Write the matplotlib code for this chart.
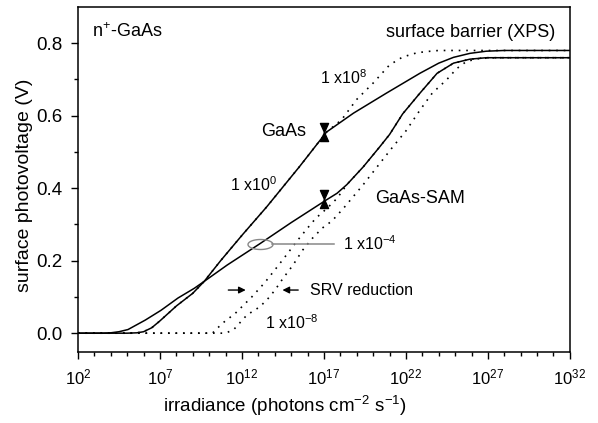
import numpy as np
import matplotlib
matplotlib.use("Agg")
import matplotlib.pyplot as plt
from matplotlib.path import Path

plt.rcParams['font.family'] = ['Liberation Sans', 'DejaVu Sans']
plt.rcParams['mathtext.fontset'] = 'custom'
plt.rcParams['mathtext.rm'] = 'Liberation Sans'
plt.rcParams['mathtext.it'] = 'Liberation Sans'

# log10(irradiance) and photovoltage (V)
gaas_lx = [2, 5.0, 5.6, 6.0, 6.5, 7.0, 8.0, 9.0, 9.7, 10.7, 12.0, 13.5, 15.5, 17.16,
           18.8, 20.8, 22.85, 24.0, 24.9, 25.9, 26.9, 28.0, 32]
gaas_v = [0, 0, 0.001, 0.004, 0.015, 0.034, 0.075, 0.11, 0.143, 0.2, 0.27, 0.348, 0.459, 0.555,
          0.607, 0.662, 0.717, 0.745, 0.761, 0.772, 0.778, 0.78, 0.78]

sam_lx = [2, 3.5, 4.0, 4.5, 5.05, 6.1, 7.06, 8.1, 9.1, 9.7, 11.1, 13.1, 15.0, 17.16,
          17.8, 18.4, 19.4, 20.4, 21.0, 21.8, 22.85, 23.9, 24.9, 25.9, 26.9, 32]
sam_v = [0, 0, 0.001, 0.004, 0.01, 0.036, 0.063, 0.097, 0.124, 0.143, 0.188, 0.247, 0.305, 0.368,
         0.386, 0.41, 0.459, 0.514, 0.548, 0.605, 0.662, 0.717, 0.745, 0.756, 0.76, 0.76]

# dotted simulations
# 1x10^8: lies under the GaAs curve up to the marker, then above it
hi_lx = [2, 5.0, 5.6, 6.0, 6.5, 7.0, 8.0, 9.0, 9.7, 10.7, 12.0, 13.5, 15.5, 17.16,
         18.08, 19.0, 20.0, 20.5, 21.0, 21.8, 22.7, 23.5, 24.0, 32]
hi_v = [0, 0, 0.001, 0.004, 0.015, 0.034, 0.075, 0.11, 0.143, 0.2, 0.27, 0.348, 0.459, 0.555,
        0.589, 0.645, 0.69, 0.715, 0.74, 0.762, 0.774, 0.778, 0.78, 0.78]

# left dotted below GaAs-SAM, joins the SAM curve above its marker
mid_lx = [2, 10.2, 10.8, 11.6, 12.6, 13.4, 14.1, 14.7, 15.3, 16.0, 16.5, 17.2, 17.8,
          18.4, 19.4, 20.4, 21.0, 21.8, 22.85, 23.9, 24.9, 25.9, 26.9, 32]
mid_v = [0, 0, 0.027, 0.055, 0.1, 0.14, 0.18, 0.215, 0.251, 0.29, 0.317, 0.345, 0.372,
         0.41, 0.459, 0.514, 0.548, 0.605, 0.662, 0.717, 0.745, 0.756, 0.76, 0.76]

# 1x10^-8: right-most dotted
lo_lx = [2, 11.0, 11.5, 12.3, 13.1, 13.6, 14.0, 14.5, 15.1, 15.7, 16.3, 16.9, 17.5, 18.2,
         19.4, 20.4, 21.2, 22.0, 22.85, 23.6, 24.5, 25.1, 25.7, 26.5, 27.5, 32]
lo_v = [0, 0, 0.01, 0.05, 0.073, 0.096, 0.118, 0.151, 0.187, 0.229, 0.262, 0.29, 0.31, 0.345,
        0.41, 0.468, 0.514, 0.558, 0.615, 0.662, 0.7, 0.73, 0.75, 0.758, 0.76, 0.76]

# measured points
pts_lx = [17, 17]
pts_v = [0.555, 0.37]

xtick_exp = [2, 7, 12, 17, 22, 27, 32]

fig = plt.figure(figsize=(5.98, 4.23), dpi=100)
ax = fig.add_axes([0.1304, 0.1678, 0.8226, 0.8157])

x = lambda lx: np.power(10.0, np.array(lx, dtype=float))

dots = (0, (1, 3.5))
for lx, v in [(hi_lx, hi_v), (mid_lx, mid_v), (lo_lx, lo_v)]:
    ax.plot(x(lx), v, color='black', lw=1.2, linestyle=dots)
ax.plot(x(gaas_lx), gaas_v, color='black', lw=1.1)
ax.plot(x(sam_lx), sam_v, color='black', lw=1.1)

hourglass = Path([(-0.45, 1), (0.45, 1), (-0.45, -1), (0.45, -1), (-0.45, 1)],
                 [Path.MOVETO, Path.LINETO, Path.LINETO, Path.LINETO, Path.CLOSEPOLY])
ax.plot(x(pts_lx), pts_v, linestyle='none', marker=hourglass, markersize=13,
        color='black', zorder=5)

# ellipse + pointer for 1x10^-4
t = np.linspace(0, 2 * np.pi, 60)
ellipse = Path(np.column_stack([np.cos(t), 0.4 * np.sin(t)]))
ax.plot([10 ** 13.1], [0.247], linestyle='none', marker=ellipse, markersize=18,
        markerfacecolor='none', markeredgecolor='#888888', markeredgewidth=1.0)
ax.plot([10 ** 13.85, 10 ** 17.6], [0.247, 0.247], color='#888888', lw=1.1)

# SRV reduction arrows
ax.annotate('', xy=(10 ** 12.4, 0.119), xytext=(10 ** 11.0, 0.119),
            arrowprops=dict(arrowstyle='-|>', color='black', lw=1.0, mutation_scale=10))
ax.annotate('', xy=(10 ** 14.3, 0.119), xytext=(10 ** 15.6, 0.119),
            arrowprops=dict(arrowstyle='-|>', color='black', lw=1.0, mutation_scale=10))

fs = 13
fs_small = 11.5
ax.text(0.028, 0.928, 'n$^{+}$-GaAs', transform=ax.transAxes, fontsize=fs,
        ha='left', va='center')
ax.text(10 ** 31.1, 0.83, 'surface barrier (XPS)', fontsize=fs, ha='right', va='center')
ax.text(10 ** 15.9, 0.557, 'GaAs', fontsize=fs, ha='right', va='center')
ax.text(10 ** 11.27, 0.41, '1 x10$^{0}$', fontsize=fs_small, ha='left', va='center')
ax.text(10 ** 16.76, 0.706, '1 x10$^{8}$', fontsize=fs_small, ha='left', va='center')
ax.text(10 ** 20.1, 0.372, 'GaAs-SAM', fontsize=fs, ha='left', va='center')
ax.text(10 ** 18.16, 0.247, '1 x10$^{-4}$', fontsize=fs_small, ha='left', va='center')
ax.text(10 ** 16.15, 0.119, 'SRV reduction', fontsize=fs_small, ha='left', va='center')
ax.text(10 ** 13.4, 0.03, '1 x10$^{-8}$', fontsize=fs_small, ha='left', va='center')

ax.set_xscale('log')
ax.set_xlim(1e2, 1e32)
ax.set_ylim(-0.052, 0.9)
ax.set_xticks([10.0 ** e for e in xtick_exp])
ax.set_xticklabels(['$10^{%d}$' % e for e in xtick_exp])
ax.set_xticks([10.0 ** e for e in range(2, 33)], minor=True)
ax.xaxis.set_minor_formatter(matplotlib.ticker.NullFormatter())
ax.set_yticks([0.0, 0.2, 0.4, 0.6, 0.8])
ax.set_yticklabels(['0.0', '0.2', '0.4', '0.6', '0.8'])
ax.set_yticks(np.arange(0.1, 0.9, 0.2), minor=True)
ax.tick_params(which='major', direction='out', length=5, width=1, pad=6)
ax.tick_params(axis='x', which='major', labelsize=12)
ax.tick_params(axis='y', which='major', labelsize=13.5)
ax.tick_params(which='minor', direction='out', length=3, width=1)

ax.set_xlabel('irradiance (photons cm$^{-2}$ s$^{-1}$)', fontsize=13.5)
ax.xaxis.set_label_coords(0.42, -0.12)
ax.set_ylabel('surface photovoltage (V)', fontsize=14)
ax.yaxis.set_label_coords(-0.092, 0.484)
for s in ax.spines.values():
    s.set_linewidth(1.1)

fig.savefig('out.png', dpi=100)
